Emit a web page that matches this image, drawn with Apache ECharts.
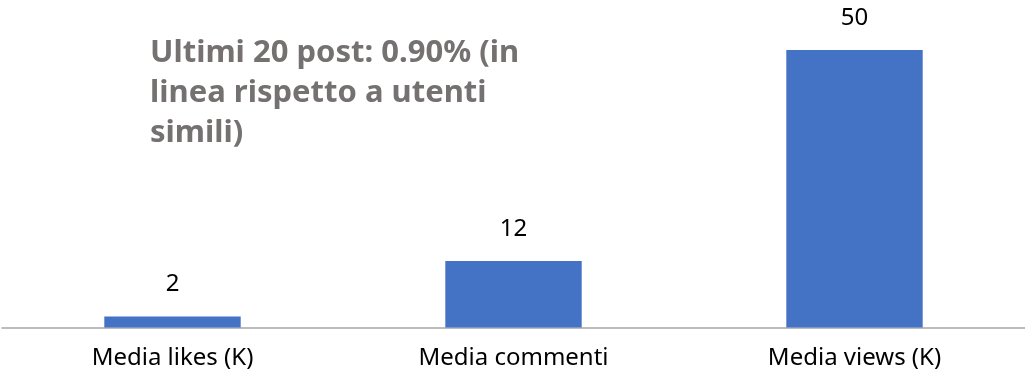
<!DOCTYPE html>
<html>
<head>
<meta charset="utf-8">
<script src="https://cdn.jsdelivr.net/npm/echarts@6/dist/echarts.min.js"></script>
<style>html,body{margin:0;padding:0;background:#fff}#c{width:1025px;height:376px}</style>
</head>
<body>
<div id="c"></div>
<script>
const categories = ['Media likes (K)', 'Media commenti', 'Media views (K)'];
const values = [2, 12, 50];
const annotation = 'Ultimi 20 post: 0.90% (in\nlinea rispetto a utenti\nsimili)';

const chart = echarts.init(document.getElementById('c'));
chart.setOption({
  animation: false,
  backgroundColor: '#ffffff',
  title: {
    text: annotation,
    left: 145, top: 28,
    textStyle: { fontFamily: 'Noto Sans', fontWeight: 'bold', fontSize: 31, color: '#767171', lineHeight: 40 }
  },
  grid: { left: 2, right: 0, top: 50, bottom: 48.5 },
  xAxis: {
    type: 'category',
    data: categories,
    axisTick: { show: false },
    axisLine: { lineStyle: { color: '#a6a6a6', width: 1.5 } },
    axisLabel: { fontFamily: 'Noto Sans', fontSize: 24, color: '#000000', margin: 19 }
  },
  yAxis: {
    type: 'value', min: 0, max: 50,
    show: false,
    splitLine: { show: false }
  },
  series: [{
    type: 'bar',
    data: values,
    barWidth: '40%',
    itemStyle: { color: '#4472C4' },
    label: { show: true, position: 'top', distance: 20, fontFamily: 'Noto Sans', fontSize: 24, color: '#000000' }
  }]
});
</script>
</body>
</html>
